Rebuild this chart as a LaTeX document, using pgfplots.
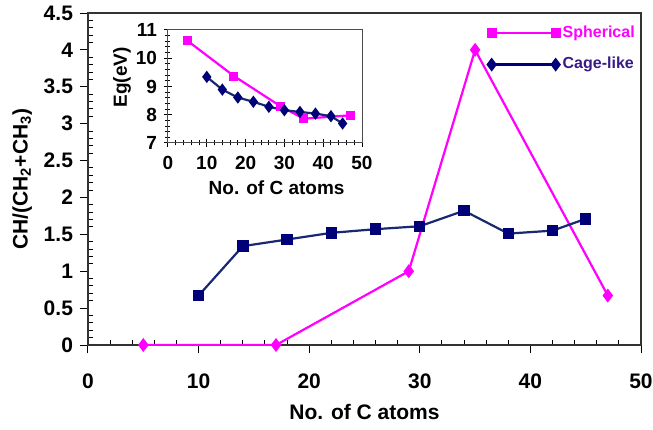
\documentclass[border=0pt]{standalone}
\usepackage{fontspec}
\setmainfont{Liberation Sans}
\usepackage{pgfplots}
\pgfplotsset{compat=1.18}
\definecolor{pinkc}{RGB}{255,0,255}
\definecolor{navyc}{RGB}{0,0,120}
\definecolor{navyl}{RGB}{25,40,115}
\definecolor{cagetext}{RGB}{55,25,135}
\begin{document}
\begin{tikzpicture}
\begin{axis}[
  scale only axis, width=276.5pt, height=166pt,
  at={(0pt,0pt)}, anchor=south west,
  xmin=0, xmax=50, ymin=0, ymax=4.5,
  xtick={0,10,...,50}, ytick={0,0.5,1,1.5,2,2.5,3,3.5,4,4.5},
  minor x tick num=4, minor y tick num=4,
  xtick pos=bottom, ytick pos=left,
  tick align=outside, major tick length=4pt, minor tick length=-2.5pt,
  tick style={black, line width=0.5pt},
  axis line style={line width=0.7pt, black!80},
  /pgf/number format/assume math mode=true,
  yticklabel style={/pgf/number format/fixed, /pgf/number format/precision=1},
  ticklabel style={font=\bfseries\fontsize{10.5}{12}\selectfont},
  xticklabel style={yshift=-7pt},
  xlabel={No. of C atoms},
  ylabel={CH/(CH\textsubscript{2}+CH\textsubscript{3})},
  label style={font=\bfseries\fontsize{10.5}{12}\selectfont},
  xlabel style={at={(axis description cs:0.5,-0.2018)}, anchor=center},
  ylabel style={at={(axis description cs:-0.119,0.5)}, anchor=center},
  legend style={draw=none, fill=none, inner sep=0pt, at={(0.722,0.972)}, anchor=north west,
    row sep=5.5pt, font=\bfseries\fontsize{8}{9.5}\selectfont,
    nodes={inner sep=1.5pt}},
  legend cell align=left,
  legend image code/.code={\draw[#1] plot coordinates {(0pt,0pt) (32pt,0pt)};},
]
\addplot[pinkc, line width=1.1pt, mark=diamond*, mark size=2.6pt, forget plot] coordinates {
  (5,0) (17,0) (29,1.0) (35,4.0) (47,0.67)};
\addplot[navyl, line width=1.1pt, mark=square*, mark size=2.3pt, mark options={navyc}, forget plot] coordinates {
  (10,0.67) (14,1.34) (18,1.43) (22,1.52) (26,1.57) (30,1.61) (34,1.82) (38,1.51) (42,1.55) (45,1.71)};
\addlegendimage{pinkc, line width=1.1pt, mark=square*, mark size=2pt}
\addlegendentry{\textcolor{pinkc}{Spherical}}
\addlegendimage{navyc, line width=1.1pt, mark=diamond*, mark size=2.6pt}
\addlegendentry{\textcolor{cagetext}{Cage-like}}
\end{axis}
\begin{axis}[
  scale only axis, width=97pt, height=56.5pt,
  at={(40pt,101pt)}, anchor=south west,
  axis background/.style={fill=white},
  xmin=0, xmax=50, ymin=7, ymax=11,
  xtick={0,10,...,50}, ytick={7,8,9,10,11},
  minor x tick num=4, minor y tick num=4,
  xtick pos=bottom, ytick pos=left,
  tick align=center, major tick length=4pt, minor tick length=2.5pt,
  tick style={black, line width=0.5pt},
  axis line style={line width=0.5pt, black!70},
  /pgf/number format/assume math mode=true,
  ticklabel style={font=\bfseries\fontsize{9.5}{11}\selectfont},
  xticklabel style={yshift=-1pt},
  xlabel={No. of C atoms}, ylabel={Eg(eV)},
  label style={font=\bfseries\fontsize{9.5}{11}\selectfont},
  xlabel style={at={(axis description cs:0.56,-0.40)}, anchor=center},
  ylabel style={at={(axis description cs:-0.237,0.58)}, anchor=center},
]
\addplot[pinkc, line width=1.1pt, mark=square*, mark size=1.7pt] coordinates {
  (5,10.62) (17,9.37) (29,8.30) (35,7.86) (47,7.98)};
\addplot[navyl, line width=1.1pt, mark=diamond*, mark size=2.2pt, mark options={navyc}] coordinates {
  (10,9.34) (14,8.89) (18,8.61) (22,8.46) (26,8.28) (30,8.16) (34,8.10) (38,8.04) (42,7.95) (45,7.69)};
\end{axis}
\pgfresetboundingbox
\path (-44pt,-42pt) rectangle (282.5pt,172.5pt);
\end{tikzpicture}
\end{document}
